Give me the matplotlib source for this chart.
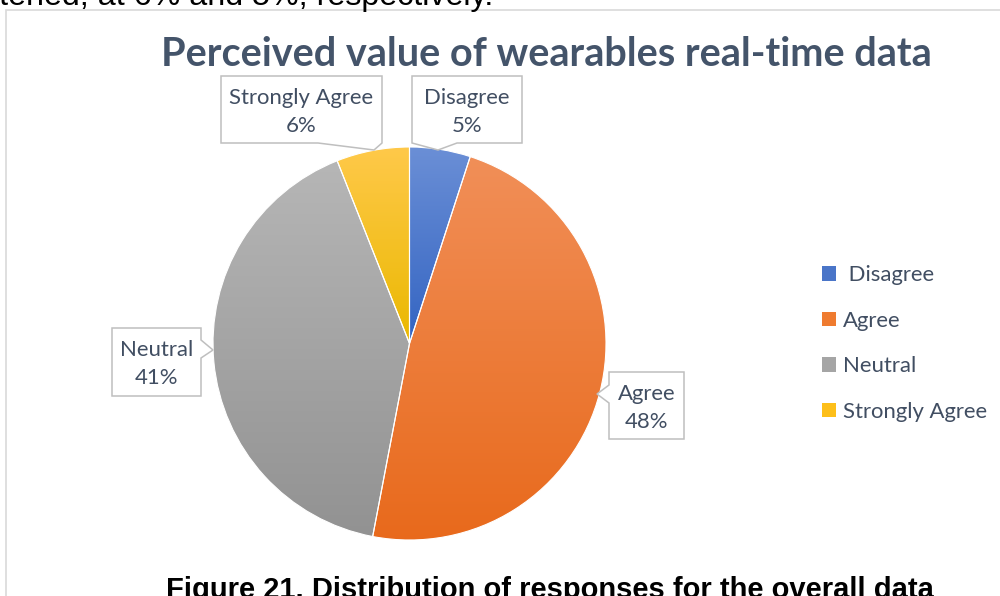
import numpy as np
import matplotlib
matplotlib.use('Agg')
import matplotlib.pyplot as plt
from matplotlib.colors import LinearSegmentedColormap
from matplotlib.patches import Polygon, Rectangle

# survey shares, clockwise from 12 o'clock
categories = ['Disagree', 'Agree', 'Neutral', 'Strongly Agree']
shares = [5, 48, 41, 6]
legend_labels = [' Disagree', 'Agree', 'Neutral', 'Strongly Agree']

# slice fills: light at the top, dark at the bottom
top_colors = ['#6b8fd6', '#f18f58', '#b6b6b6', '#ffc94a']
mid_colors = ['#4a75c8', '#ef7b2f', '#a5a5a5', '#fdbf1a']
bottom_colors = ['#3364c2', '#e8691b', '#929292', '#eab800']

title = 'Perceived value of wearables real-time data'
caption = 'Figure 21. Distribution of responses for the overall data'
body_tail = 'flattened, at 6% and 5%, respectively.'

W, H = 1000, 596
LABEL_COLOR = '#414e62'
FONT = ['Lato', 'DejaVu Sans']
LABEL_SIZE = 15.9


def flip(pts):
    # pixel rows are measured downward, the axes run upward
    return [(x, H - y) for x, y in pts]


def callout(ax, box, tail):
    x0, y0, x1, y1 = box
    side, a, b, tip = tail
    if side == 'bottom':
        pts = [(x0, y0), (x1, y0), (x1, y1), (b, y1), tip, (a, y1), (x0, y1)]
    elif side == 'left':
        pts = [(x0, y0), (x1, y0), (x1, y1), (x0, y1), (x0, b), tip, (x0, a)]
    else:  # right
        pts = [(x0, y0), (x1, y0), (x1, a), tip, (x1, b), (x1, y1), (x0, y1)]
    ax.add_patch(Polygon(flip(pts), closed=True, facecolor='white',
                         edgecolor='#bfbfbf', linewidth=1.1, zorder=5))


fig = plt.figure(figsize=(W / 100, H / 100), dpi=100)
ax = fig.add_axes([0, 0, 1, 1])

# chart frame (runs off the right and bottom of the page crop)
ax.add_patch(Rectangle((6, -40), 1100, H - 10 + 40, facecolor='white',
                       edgecolor='#d9d9d9', linewidth=1.2, zorder=0))

wedges, _ = ax.pie(shares, startangle=90, counterclock=False,
                   center=(409.5, H - 343.5), radius=196.5, colors=mid_colors,
                   frame=True,
                   wedgeprops=dict(edgecolor='white', linewidth=0.8))

for w, c_top, c_bot in zip(wedges, top_colors, bottom_colors):
    v = w.get_path().vertices
    xa, xb = v[:, 0].min(), v[:, 0].max()
    ya, yb = v[:, 1].min(), v[:, 1].max()
    cmap = LinearSegmentedColormap.from_list('g', [c_bot, c_top])
    grad = np.linspace(0, 1, 256).reshape(-1, 1)
    im = ax.imshow(grad, cmap=cmap, extent=(xa, xb, ya, yb), origin='lower',
                   aspect='auto', zorder=1.5, interpolation='bilinear')
    im.set_clip_path(w)
    w.set_facecolor('none')
    w.set_zorder(2)

# data labels in callout boxes
boxes = {
    'Strongly Agree': ((221, 76, 382, 143), ('bottom', 318, 382, (374, 150))),
    'Disagree': ((412, 76, 522, 143), ('bottom', 412, 457, (438, 150))),
    'Neutral': ((112, 328, 201, 396), ('right', 340, 358, (213, 350))),
    'Agree': ((609, 372, 684, 439), ('left', 385, 403, (597, 394))),
}
for name, share in zip(categories, shares):
    box, tail = boxes[name]
    callout(ax, box, tail)
    cx = (box[0] + box[2]) / 2
    cy = (box[1] + box[3]) / 2 + 2
    ax.text(cx, H - cy, f'{name}\n{share}%', ha='center', va='center',
            fontsize=LABEL_SIZE, color=LABEL_COLOR, family=FONT,
            linespacing=1.5, zorder=6)

ax.text(546, H - 66, title, ha='center', va='baseline', fontsize=28.5,
        fontweight='bold', color='#44546a', family=FONT)

handles = [Rectangle((0, 0), 1, 1, facecolor=c) for c in mid_colors]
leg = ax.legend(handles, legend_labels, loc='center left',
                bbox_to_anchor=(822, H - 343.5), bbox_transform=ax.transData,
                frameon=False, handlelength=0.64, handleheight=0.64,
                handletextpad=0.3, labelspacing=1.16, borderpad=0,
                borderaxespad=0, prop={'family': FONT, 'size': LABEL_SIZE})
for t in leg.get_texts():
    t.set_color(LABEL_COLOR)

# surrounding document text, cropped by the page edges
ax.text(493, H - 5, body_tail, ha='right', va='baseline', fontsize=23.25,
        family='Liberation Sans', color='black', clip_on=False)
ax.text(550, H - 598, caption, ha='center', va='baseline', fontsize=21,
        fontweight='bold', family='Liberation Sans', color='black',
        clip_on=False)

ax.set_xlim(0, W)
ax.set_ylim(0, H)
ax.axis('off')

fig.savefig('out.png', dpi=100)
